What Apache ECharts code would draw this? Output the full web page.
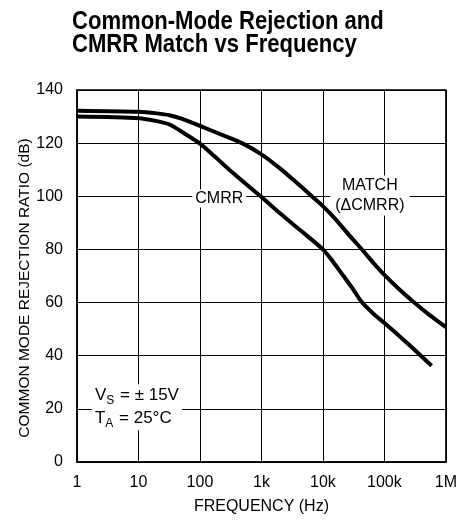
<!DOCTYPE html>
<html>
<head>
<meta charset="utf-8">
<script src="https://cdn.jsdelivr.net/npm/echarts@6/dist/echarts.min.js"></script>
<style>
html,body{margin:0;padding:0;background:#fff;}
#chart{width:460px;height:521px;}
</style>
</head>
<body>
<div id="chart"></div>
<script>
// Data (frequency in Hz, ratio in dB)
var matchFreq = [1, 10, 20, 32, 50, 100, 234, 490, 1000, 2000, 4000, 6600, 10000, 15700, 27600, 45000, 73600, 100000, 174000, 295000, 550000, 1000000];
var matchDb   = [132.2, 131.8, 131.2, 130.5, 129.2, 126.5, 123, 119.9, 115.8, 110.5, 104.5, 100, 96.3, 91.6, 85, 79.5, 73.7, 70.4, 65, 60.3, 55.2, 50.8];
var cmrrFreq  = [1, 10, 20, 32, 67, 100, 150, 200, 300, 1000, 2000, 4400, 10000, 15000, 21600, 31000, 42500, 65000, 100000, 200000, 300000, 585000];
var cmrrDb    = [130, 129.4, 128.3, 127, 122.5, 119.8, 116.3, 113.7, 110, 99.7, 93.6, 87, 80, 75, 70, 65, 60.3, 56, 52.3, 46.2, 42.5, 36.2];
var xTickValues = [1, 10, 100, 1000, 10000, 100000, 1000000];
var xTickLabels = ['1', '10', '100', '1k', '10k', '100k', '1M'];
var yTicks = [0, 20, 40, 60, 80, 100, 120, 140];

function pairs(xs, ys) { return xs.map(function (x, i) { return [x, ys[i]]; }); }

var FONT = '"Liberation Sans", Arial, sans-serif';
var chart = echarts.init(document.getElementById('chart'), null, {renderer: 'canvas'});
chart.setOption({
  animation: false,
  backgroundColor: '#fff',
  graphic: [{
    type: 'text', x: 72, y: 10, scaleX: 0.85, z: 10,
    style: {
      text: 'Common-Mode Rejection and\nCMRR Match vs Frequency',
      fontFamily: FONT, fontWeight: 'bold', fontSize: 26, lineHeight: 23.5,
      fill: '#000', textAlign: 'left', textVerticalAlign: 'top'
    }
  }],
  grid: {left: 77, right: 12, top: 90, bottom: 59, show: true, borderColor: '#000', borderWidth: 1.5, backgroundColor: 'transparent'},
  xAxis: {
    type: 'log', logBase: 10, min: 1, max: 1000000,
    name: 'FREQUENCY (Hz)', nameLocation: 'middle', nameGap: 37, nameMoveOverlap: false,
    nameTextStyle: {fontFamily: FONT, fontSize: 16, color: '#000'},
    axisLine: {show: true, lineStyle: {color: '#000', width: 1.5}},
    axisTick: {show: false},
    axisLabel: {
      fontFamily: FONT, fontSize: 16, color: '#000', margin: 13,
      formatter: function (v) { var i = xTickValues.indexOf(Math.round(v)); return i >= 0 ? xTickLabels[i] : ''; }
    },
    splitLine: {show: true, lineStyle: {color: '#000', width: 1}},
    minorTick: {show: false}
  },
  yAxis: {
    type: 'value', min: yTicks[0], max: yTicks[yTicks.length - 1], interval: 20,
    name: 'COMMON MODE REJECTION RATIO (dB)', nameLocation: 'middle', nameGap: 44, nameMoveOverlap: false,
    nameTextStyle: {fontFamily: FONT, fontSize: 15.5, color: '#000', padding: [0, 24, 0, 0]},
    axisLine: {show: true, lineStyle: {color: '#000', width: 1.5}},
    axisTick: {show: false},
    axisLabel: {fontFamily: FONT, fontSize: 16, color: '#000', margin: 14},
    splitLine: {show: true, lineStyle: {color: '#000', width: 1}}
  },
  series: [
    {
      name: 'MATCH', type: 'line', data: pairs(matchFreq, matchDb), smooth: 0.25,
      symbol: 'none', lineStyle: {color: '#000', width: 4}, z: 5,
      markPoint: {
        symbol: 'circle', symbolSize: 0,
        data: [{
          coord: [58000, 100.3],
          label: {show: true, position: 'inside', formatter: 'MATCH\n(ΔCMRR)', fontFamily: FONT, fontSize: 16, lineHeight: 20, color: '#000', backgroundColor: '#fff', padding: [0, 5, 0, 5], align: 'center'}
        }]
      }
    },
    {
      name: 'CMRR', type: 'line', data: pairs(cmrrFreq, cmrrDb), smooth: 0.25,
      symbol: 'none', lineStyle: {color: '#000', width: 4}, z: 5,
      markPoint: {
        symbol: 'circle', symbolSize: 0,
        data: [{
          coord: [206, 99.2],
          label: {show: true, position: 'inside', formatter: 'CMRR', fontFamily: FONT, fontSize: 16, color: '#000', backgroundColor: '#fff', padding: [1, 3, 1, 3]}
        }, {
          coord: [1.75, 20.6],
          label: {
            show: true, position: 'right', distance: 0,
            formatter: '{n|V}{s|S}{n| = ± 15V}\n{n|T}{s|A}{n| = 25°C}',
            backgroundColor: '#fff', padding: [0, 3, 0, 3],
            rich: {
              n: {fontFamily: FONT, fontSize: 17, color: '#000', lineHeight: 23},
              s: {fontFamily: FONT, fontSize: 12, color: '#000', lineHeight: 23, padding: [9, 1, 0, 0]}
            }
          }
        }]
      }
    }
  ]
});
</script>
</body>
</html>
